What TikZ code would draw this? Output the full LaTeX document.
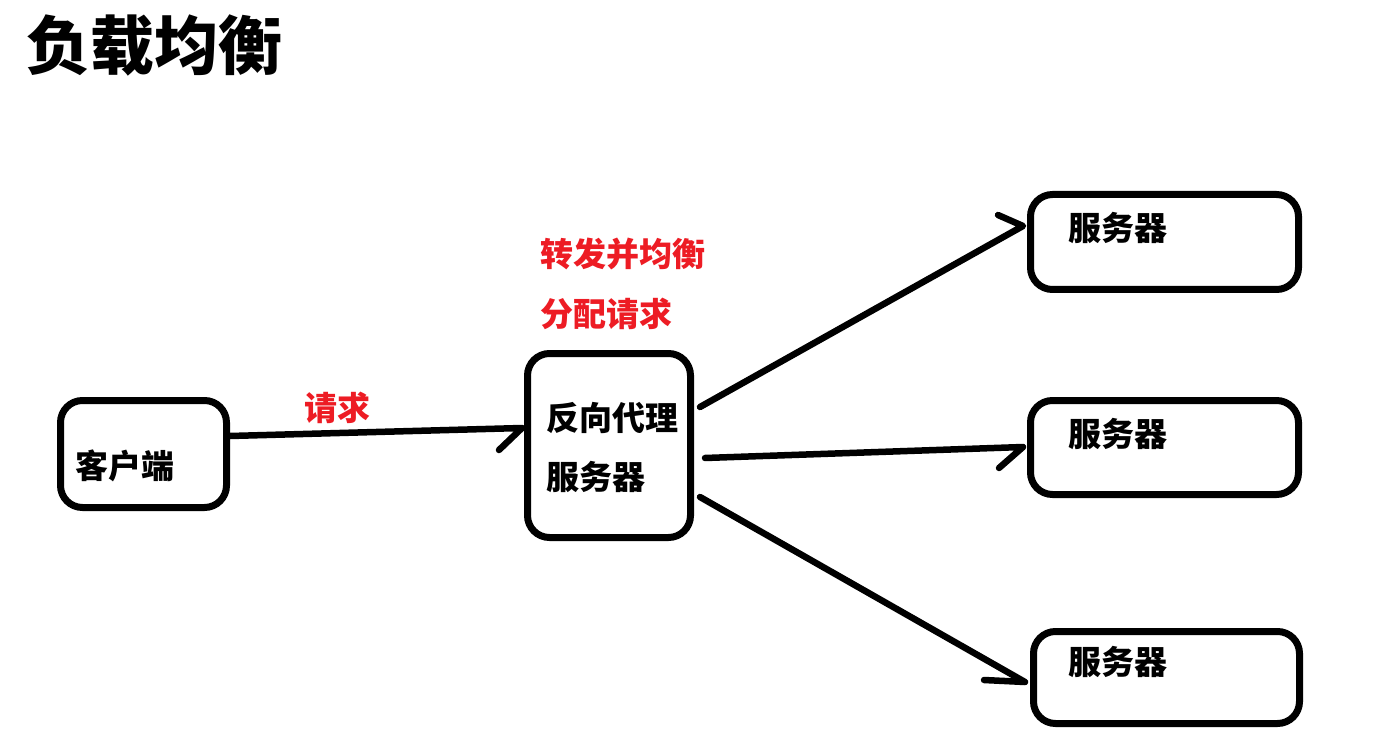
\documentclass[tikz,border=0pt]{standalone}
\usepackage{fontspec}
\newfontfamily\cjk{Noto Sans CJK SC}
\definecolor{pred}{RGB}{237,28,36}
\tikzset{
  box/.style={draw=black, line width=7pt, rounded corners=22pt, inner sep=0pt},
  conn/.style={draw=black, line width=6.5pt, line cap=round, line join=round},
  txt/.style={anchor=west, inner sep=0pt, font=\cjk\bfseries\fontsize{33}{36}\selectfont},
  rtxt/.style={txt, text=pred},
}
\begin{document}
\begin{tikzpicture}[x=1pt,y=-1pt]
\useasboundingbox[fill=white] (0,0) rectangle (1376,743);
% title
\node[anchor=west, inner sep=0pt, font=\cjk\bfseries\fontsize{64}{70}\selectfont] (title) at (26,45) {负载均衡};
% boxes
\node[box, minimum width=166pt, minimum height=107pt] (client) at (143.5,454) {};
\node[box, minimum width=163pt, minimum height=184pt] (proxy) at (609,445.5) {};
\node[box, minimum width=268pt, minimum height=95pt] (s1) at (1164.5,242) {};
\node[box, minimum width=268pt, minimum height=94pt] (s2) at (1164.5,447.5) {};
\node[box, minimum width=266pt, minimum height=92pt] (s3) at (1166.5,677.5) {};
% texts
\node[txt] (tc) at (75,466) {客户端};
\node[txt] (tp1) at (546,418) {反向代理};
\node[txt] (tp2) at (546,477) {服务器};
\node[txt] (t1) at (1068,228) {服务器};
\node[txt] (t2) at (1068,434) {服务器};
\node[txt] (t3) at (1068,662) {服务器};
\node[rtxt] (lq) at (304,408) {请求};
\node[rtxt] (lf1) at (540,254) {转发并均衡};
\node[rtxt] (lf2) at (540,314) {分配请求};
% arrow tips and barbs
\coordinate (a0) at (522,428);
\coordinate (b0) at (499,450);
\coordinate (a1) at (1023,226);
\coordinate (b1) at (998,215);
\coordinate (a2) at (1023,447);
\coordinate (b2) at (999,468);
\coordinate (a3) at (1025,682);
\coordinate (b3) at (984,680);
\coordinate (o0) at (230,436);
\coordinate (o1) at (700,407);
\coordinate (o2) at (705,458);
\coordinate (o3) at (700,497);
% connectors
\draw[conn] (o0) -- (a0) -- (b0);
\draw[conn] (o1) -- (a1) -- (b1);
\draw[conn] (o2) -- (a2) -- (b2);
\draw[conn] (o3) -- (a3) -- (b3);
\end{tikzpicture}
\end{document}
